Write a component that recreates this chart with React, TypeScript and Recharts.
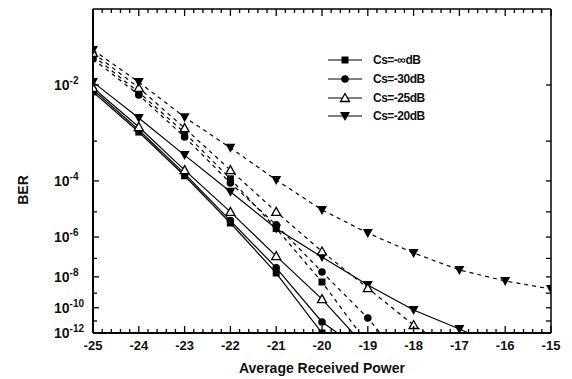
import { LineChart, Line, XAxis, YAxis, Legend } from "recharts";

// average received power (x)
const power = [-25, -24, -23, -22, -21, -20, -19, -18, -17, -16, -15];

// BER, solid curves
const infSolid = [7.9e-3, 1.55e-3, 1.4e-4, 3.8e-6, 1.66e-8, 1.0e-12, null, null, null, null, null];
const cs30Solid = [8.5e-3, 1.7e-3, 1.6e-4, 4.7e-6, 3.2e-8, 8.3e-12, 1e-14, null, null, null, null];
const cs25Solid = [9.1e-3, 1.95e-3, 2.0e-4, 1.0e-5, 1.3e-7, 4.0e-10, 3.2e-14, null, null, null, null];
const cs20Solid = [1.1e-2, 2.9e-3, 4.8e-4, 4.7e-5, 2.3e-6, 1.17e-7, 3.3e-9, 6.9e-11, 2.2e-12, 3.2e-14, null];

// BER, dashed curves
const infDashed = [2.4e-2, 7.8e-3, 1.5e-3, 1.15e-4, 2.3e-6, 5.0e-9, 1e-13, null, null, null, null];
const cs30Dashed = [2.2e-2, 7.1e-3, 1.23e-3, 8.7e-5, 3.2e-6, 1.9e-8, 1.7e-11, 1e-16, null, null, null];
const cs25Dashed = [2.6e-2, 9.1e-3, 1.86e-3, 2.0e-4, 1.0e-5, 2.2e-7, 2.1e-9, 4.7e-12, 1e-14, null, null];
const cs20Dashed = [2.8e-2, 1.1e-2, 3.0e-3, 7.1e-4, 1.07e-4, 1.17e-5, 1.48e-6, 1.86e-7, 2.45e-8, 5.75e-9, 1.86e-9];

// y axis: exponents of BER (10^-k)
const yMajor = [2, 4, 6, 8, 10, 12];
const yLeftTicks = [2, 3, 4, 5, 6, 7, 8, 9, 10, 11, 12];
const yRightTicks = [2, 3, 4, 5, 6, 7, 8, 9, 10, 11];
const xTicks: number[] = [];
for (let i = 0; i <= 50; i++) xTicks.push(Math.round((-25 + i * 0.2) * 10) / 10);

const legendItems = [
  { name: "Cs=-\u221EdB", shape: "square" },
  { name: "Cs=-30dB", shape: "circle" },
  { name: "Cs=-25dB", shape: "triangle" },
  { name: "Cs=-20dB", shape: "down" },
];

const series = [
  { key: "infSolid", values: infSolid, shape: "square", dashed: false },
  { key: "cs30Solid", values: cs30Solid, shape: "circle", dashed: false },
  { key: "cs25Solid", values: cs25Solid, shape: "triangle", dashed: false },
  { key: "cs20Solid", values: cs20Solid, shape: "down", dashed: false },
  { key: "infDashed", values: infDashed, shape: "square", dashed: true },
  { key: "cs30Dashed", values: cs30Dashed, shape: "circle", dashed: true },
  { key: "cs25Dashed", values: cs25Dashed, shape: "triangle", dashed: true },
  { key: "cs20Dashed", values: cs20Dashed, shape: "down", dashed: true },
];

const toExp = (v: number | null) => (v == null ? null : -Math.log10(v));

const chartData = power.map((p, i) => {
  const row: Record<string, number | null> = { power: p };
  series.forEach((s) => {
    row[s.key] = toExp(s.values[i]);
  });
  return row;
});

const FONT = "'Liberation Sans', Arial, sans-serif";
const TICK = "#000";

function marker(shape: string, cx: number, cy: number) {
  switch (shape) {
    case "square":
      return <rect x={cx - 3.5} y={cy - 3.5} width={7} height={7} fill="#000" />;
    case "circle":
      return <circle cx={cx} cy={cy} r={3.8} fill="#000" />;
    case "triangle":
      return (
        <path
          d={`M${cx},${cy - 4.5} L${cx + 4.5},${cy + 3.5} L${cx - 4.5},${cy + 3.5} Z`}
          fill="#fff"
          stroke="#000"
          strokeWidth={1.3}
        />
      );
    default:
      return <path d={`M${cx - 5},${cy - 4} L${cx + 5},${cy - 4} L${cx},${cy + 5} Z`} fill="#000" />;
  }
}

const isMajorX = (v: number) => Math.abs(v - Math.round(v)) < 1e-6;

function BottomTick({ x, y, payload }: any) {
  const v = payload.value;
  const major = isMajorX(v);
  return (
    <g>
      <path d={`M${x},${y}V${y - (major ? 7 : 4)}`} stroke={TICK} strokeWidth={1.3} />
      {major && (
        <text x={x} y={y + 17} textAnchor="middle" fontSize={13} fontWeight="bold" fill="#111" fontFamily={FONT}>
          {Math.round(v)}
        </text>
      )}
    </g>
  );
}

function TopTick({ x, y, payload }: any) {
  const major = isMajorX(payload.value);
  return <path d={`M${x},${y}V${y + (major ? 7 : 4)}`} stroke={TICK} strokeWidth={1.3} />;
}

function LeftTick({ x, y, payload }: any) {
  const k = payload.value;
  const major = yMajor.includes(k);
  return (
    <g>
      <path d={`M${x},${y}H${x + (major ? 6 : 4)}`} stroke={TICK} strokeWidth={1.3} />
      {major && (
        <text x={x - 39} y={y + 5} textAnchor="start" fontSize={14} fill="#111" fontFamily={FONT} fontWeight="bold">
          10
          <tspan dy={-6} fontSize={10}>{`-${k}`}</tspan>
        </text>
      )}
    </g>
  );
}

function RightTick({ x, y }: any) {
  return <path d={`M${x},${y}H${x - 5}`} stroke={TICK} strokeWidth={1.3} />;
}

function LegendBox() {
  return (
    <div style={{ fontFamily: FONT }}>
      {legendItems.map((item) => (
        <div key={item.name} style={{ display: "flex", alignItems: "center", height: 18.7 }}>
          <svg width={45} height={18}>
            <path d="M0,9H34" stroke="#000" strokeWidth={1.2} />
            {marker(item.shape, 17, 9)}
          </svg>
          <span style={{ fontSize: 12, fontWeight: "bold", color: "#111", letterSpacing: -0.5 }}>{item.name}</span>
        </div>
      ))}
    </div>
  );
}

export default function App() {
  return (
    <LineChart width={556} height={371} data={chartData} margin={{ top: 0, right: 12, left: 0, bottom: 0 }}>
      <XAxis
        xAxisId="bottom"
        dataKey="power"
        type="number"
        domain={[-25, -15]}
        allowDataOverflow
        ticks={xTicks}
        interval={0}
        tickSize={0}
        tickMargin={0}
        tickLine={false}
        tick={<BottomTick />}
        height={46}
        axisLine={{ stroke: "#000", strokeWidth: 2 }}
        label={{
          value: "Average Received Power",
          position: "insideBottom",
          offset: 6,
          style: { fontSize: 14, fontWeight: "bold", fill: "#111", fontFamily: FONT },
        }}
      />
      <XAxis
        xAxisId="top"
        orientation="top"
        dataKey="power"
        type="number"
        domain={[-25, -15]}
        allowDataOverflow
        ticks={xTicks}
        interval={0}
        tickSize={0}
        tickMargin={0}
        tickLine={false}
        tick={<TopTick />}
        height={1}
        axisLine={{ stroke: "#000", strokeWidth: 1.5 }}
      />
      <YAxis
        yAxisId="left"
        type="number"
        scale="log"
        domain={[1.155, 12]}
        reversed
        allowDataOverflow
        ticks={yLeftTicks}
        interval={0}
        tickSize={0}
        tickMargin={0}
        tickLine={false}
        tick={<LeftTick />}
        width={85}
        axisLine={{ stroke: "#000", strokeWidth: 2 }}
        label={() => (
          <text
            x={15}
            y={182}
            transform="rotate(-90 15 182)"
            textAnchor="middle"
            dominantBaseline="central"
            fontSize={14}
            fontWeight="bold"
            fill="#111"
            fontFamily={FONT}
          >
            BER
          </text>
        )}
      />
      <YAxis
        yAxisId="right"
        orientation="right"
        type="number"
        scale="log"
        domain={[1.155, 12]}
        reversed
        allowDataOverflow
        ticks={yRightTicks}
        interval={0}
        tickSize={0}
        tickMargin={0}
        tickLine={false}
        tick={<RightTick />}
        width={1}
        axisLine={{ stroke: "#000", strokeWidth: 1.5 }}
      />
      <Legend
        layout="horizontal"
        verticalAlign="middle"
        align="center"
        content={() => <LegendBox />}
        wrapperStyle={{ left: 320, top: 43, width: 130 }}
      />
      {series.map((s) => (
        <Line
          key={s.key}
          xAxisId={s.key === "cs20Dashed" ? "top" : "bottom"}
          yAxisId="left"
          dataKey={s.key}
          stroke="#000"
          strokeWidth={1.2}
          strokeDasharray={s.dashed ? "4 4" : undefined}
          isAnimationActive={false}
          legendType="none"
          dot={(p: any) =>
            p.cx == null || p.cy == null || p.value == null ? (
              <g key={`${s.key}-${p.index}`} />
            ) : (
              <g key={`${s.key}-${p.index}`}>{marker(s.shape, p.cx, p.cy)}</g>
            )
          }
          activeDot={false}
        />
      ))}
    </LineChart>
  );
}
